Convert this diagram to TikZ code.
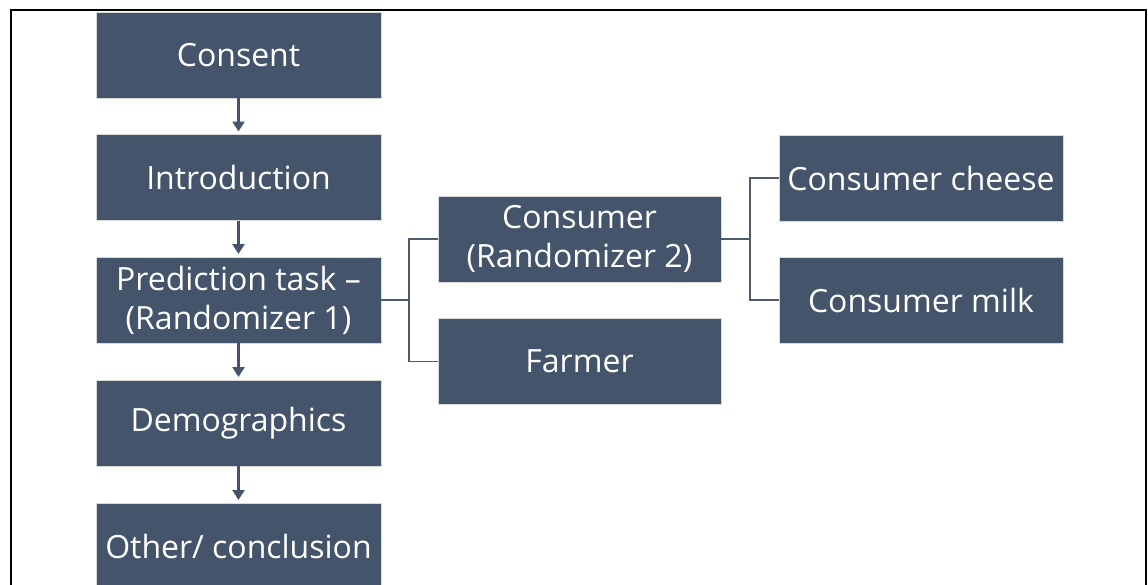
\documentclass[tikz,border=0pt]{standalone}
\usepackage{fontspec}
\setmainfont{Open Sans}
\usepackage{xcolor}
\usetikzlibrary{arrows.meta,positioning}
\definecolor{slate}{HTML}{44546A}
\definecolor{rim}{HTML}{D9D9D9}
\tikzset{
  stage/.style={draw=rim,line width=1pt,fill=slate,text=white,minimum width=285pt,minimum height=86pt,
    inner sep=0pt,outer sep=0pt,align=center,font=\fontsize{32}{39}\selectfont},
  flow/.style={-{Triangle[length=10pt,width=12pt]},line width=3pt,slate,shorten >=3pt},
  link/.style={line width=1.5pt,slate!85!gray}
}
\begin{document}
\begin{tikzpicture}[x=1pt,y=-1pt]
\useasboundingbox (0,0) rectangle (1148,584);
\draw[line width=2pt] (11,590) -- (11,10) -- (1146,10) -- (1146,590);
% main sequence
\node[stage] (consent) at (238.5,55) {Consent};
\node[stage] (intro) at (238.5,177.5) {Introduction};
\node[stage] (predict) at (238.5,300) {Prediction task --\\(Randomizer 1)};
\node[stage] (demo) at (238.5,423) {Demographics};
\node[stage] (other) at (238.5,546) {Other/ conclusion};
% branches
\node[stage,minimum width=283pt] (consumer) at (579.5,239) {Consumer\\(Randomizer 2)};
\node[stage,minimum width=283pt] (farmer) at (579.5,361.5) {Farmer};
\node[stage,minimum width=284pt] (cheese) at (921,178) {Consumer cheese};
\node[stage,minimum width=284pt] (milk) at (921,300) {Consumer milk};
\coordinate (split1) at (409,300);
\coordinate (split2) at (750,239);
\foreach \a/\b in {consent/intro,intro/predict,predict/demo,demo/other}{\draw[flow] (\a.south) -- (\b.north);}
\draw[link] (predict.east) -- (split1);
\draw[link] (consumer.west) -| (split1) |- (farmer.west);
\draw[link] (consumer.east) -- (split2);
\draw[link] (cheese.west) -| (split2) |- (milk.west);
\end{tikzpicture}
\end{document}
